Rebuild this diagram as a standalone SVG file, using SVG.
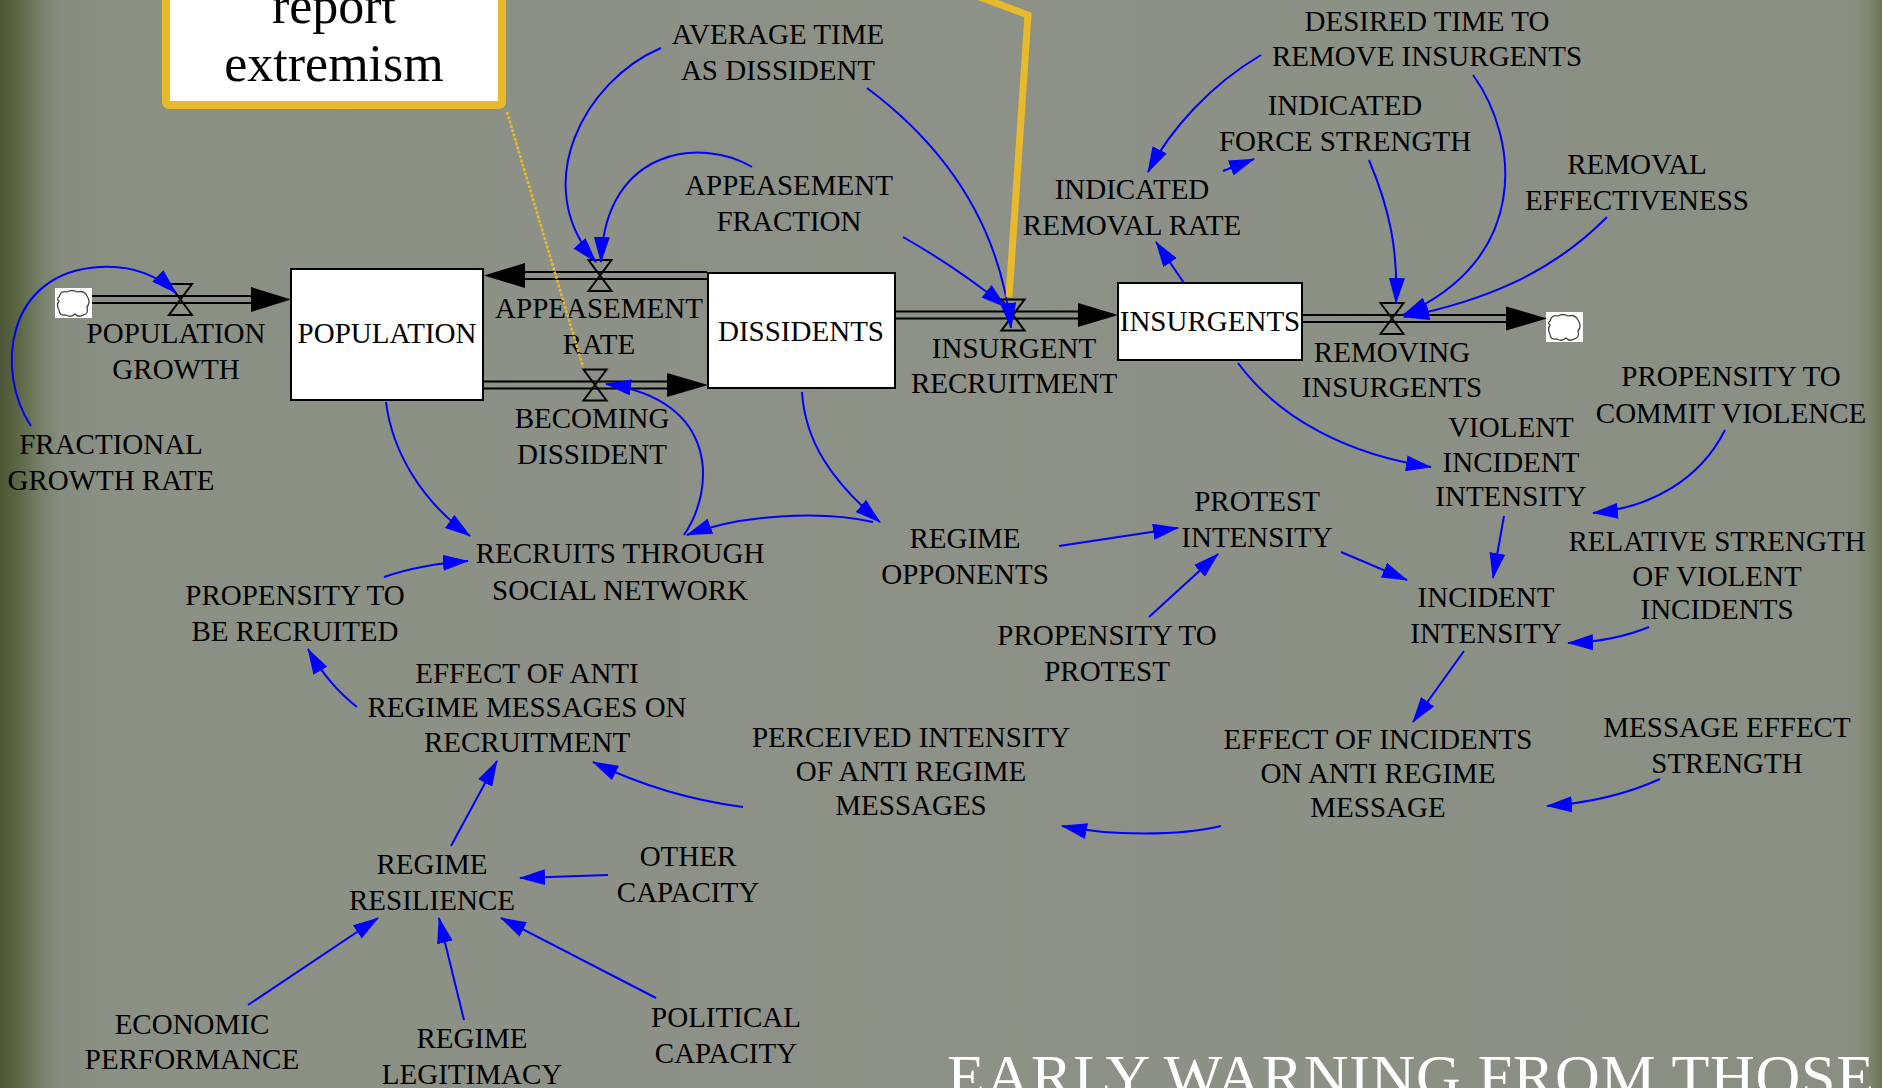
<svg xmlns="http://www.w3.org/2000/svg" xmlns:xlink="http://www.w3.org/1999/xlink" width="1882" height="1088" viewBox="0 0 1882 1088">
<style>
 .lbl{font-family:"Liberation Serif","Times New Roman",serif;font-size:29px;fill:#000;text-anchor:middle}
 .stock{fill:#fff;stroke:#000;stroke-width:2}
 .pipe{stroke:#000;stroke-width:2;fill:none}
 .fh{fill:#000}
 .lnk{fill:none;stroke:#0000FF;stroke-width:2;marker-end:url(#ah)}
 .note{font-family:"Liberation Serif","Times New Roman",serif;font-size:52px;text-anchor:middle;fill:#000}
 .title{font-family:"Liberation Serif","Times New Roman",serif;font-size:62px;fill:#fff}
 .gold{stroke:#E8B92A;fill:none}
</style>
<defs>
 <linearGradient id="bgH" x1="0" y1="0" x2="1" y2="0">
  <stop offset="0" stop-color="#4A5636"/>
  <stop offset="0.01" stop-color="#5C6845"/>
  <stop offset="0.022" stop-color="#77816A"/>
  <stop offset="0.032" stop-color="#868D7F"/>
  <stop offset="0.06" stop-color="#8B9085"/>
  <stop offset="0.5" stop-color="#8D9187"/>
  <stop offset="0.985" stop-color="#8A8F84"/>
  <stop offset="0.993" stop-color="#7E876F"/>
  <stop offset="1" stop-color="#6B7656"/>
 </linearGradient>
 <marker id="ah" viewBox="0 0 26 16" refX="25" refY="8" markerWidth="26" markerHeight="16" markerUnits="userSpaceOnUse" orient="auto">
  <path d="M0,0 L26,8 L0,16 z" fill="#0000FF"/>
 </marker>
 <path id="valve" d="M-11.5,-15.5 H11.5 L-11.5,15.5 H11.5 Z" fill="none" stroke="#000" stroke-width="2"/>
 <g id="cloud">
  <rect x="0" y="0" width="37" height="30" fill="#fff"/>
  <path d="M4,9 Q6,2 12,4 Q17,1 22,4 Q29,2 32,8 Q36,14 32,19 Q34,26 28,27 Q24,30 20,26 Q16,30 11,27 Q4,28 4,22 Q1,17 4,13 Q1,11 4,9 z" fill="#fff" stroke="#444" stroke-width="1.3"/>
 </g>
</defs>

<rect x="0" y="0" width="1882" height="1088" fill="url(#bgH)"/>

<!-- stocks -->
<g id="population"><rect class="stock" x="291" y="269" width="192" height="131"/><text class="lbl" x="387" y="343">POPULATION</text></g>
<g id="dissidents"><rect class="stock" x="708" y="273" width="187" height="115"/><text class="lbl" x="801" y="341">DISSIDENTS</text></g>
<g id="insurgents"><rect class="stock" x="1118" y="283" width="184" height="77"/><text class="lbl" x="1210" y="331">INSURGENTS</text></g>

<!-- clouds -->
<g id="source-cloud"><use xlink:href="#cloud" href="#cloud" x="55" y="288"/></g>
<g id="sink-cloud"><use xlink:href="#cloud" href="#cloud" x="1546" y="312"/></g>

<!-- flows -->
<g id="population-growth">
 <line class="pipe" x1="92" y1="296" x2="252" y2="296"/><line class="pipe" x1="92" y1="303" x2="252" y2="303"/>
 <polygon class="fh" points="251,287 291,299.5 251,312"/>
 <use xlink:href="#valve" href="#valve" x="180.5" y="299.5"/>
 <text class="lbl"><tspan x="176" y="343">POPULATION</tspan><tspan x="176" y="379">GROWTH</tspan></text>
</g>
<g id="appeasement-rate">
 <line class="pipe" x1="524" y1="272" x2="707" y2="272"/><line class="pipe" x1="524" y1="279" x2="707" y2="279"/>
 <polygon class="fh" points="525,263 484,275.5 525,288"/>
 <use xlink:href="#valve" href="#valve" x="600" y="275.5"/>
 <text class="lbl"><tspan x="599" y="318">APPEASEMENT</tspan><tspan x="599" y="354">RATE</tspan></text>
</g>
<g id="becoming-dissident">
 <line class="pipe" x1="483" y1="381.5" x2="668" y2="381.5"/><line class="pipe" x1="483" y1="388.5" x2="668" y2="388.5"/>
 <polygon class="fh" points="667,373 708,385 667,397"/>
 <use xlink:href="#valve" href="#valve" x="595" y="385"/>
 <text class="lbl"><tspan x="592" y="428">BECOMING</tspan><tspan x="592" y="464">DISSIDENT</tspan></text>
</g>
<g id="insurgent-recruitment">
 <line class="pipe" x1="895" y1="311.5" x2="1079" y2="311.5"/><line class="pipe" x1="895" y1="318.5" x2="1079" y2="318.5"/>
 <polygon class="fh" points="1078,303 1118,315 1078,327"/>
 <use xlink:href="#valve" href="#valve" x="1013" y="315"/>
 <text class="lbl"><tspan x="1014" y="358">INSURGENT</tspan><tspan x="1014" y="393">RECRUITMENT</tspan></text>
</g>
<g id="removing-insurgents">
 <line class="pipe" x1="1302" y1="315" x2="1507" y2="315"/><line class="pipe" x1="1302" y1="322" x2="1507" y2="322"/>
 <polygon class="fh" points="1506,306.5 1547,318.5 1506,330.5"/>
 <use xlink:href="#valve" href="#valve" x="1392" y="318.5"/>
 <text class="lbl"><tspan x="1392" y="362">REMOVING</tspan><tspan x="1392" y="397">INSURGENTS</tspan></text>
</g>

<!-- auxiliaries -->
<g id="fractional-growth-rate"><text class="lbl"><tspan x="111" y="454">FRACTIONAL</tspan><tspan x="111" y="490">GROWTH RATE</tspan></text></g>
<g id="average-time-as-dissident"><text class="lbl"><tspan x="778" y="44">AVERAGE TIME</tspan><tspan x="778" y="80">AS DISSIDENT</tspan></text></g>
<g id="appeasement-fraction"><text class="lbl"><tspan x="789" y="195">APPEASEMENT</tspan><tspan x="789" y="231">FRACTION</tspan></text></g>
<g id="indicated-removal-rate"><text class="lbl"><tspan x="1132" y="199">INDICATED</tspan><tspan x="1132" y="235">REMOVAL RATE</tspan></text></g>
<g id="indicated-force-strength"><text class="lbl"><tspan x="1345" y="115">INDICATED</tspan><tspan x="1345" y="151">FORCE STRENGTH</tspan></text></g>
<g id="desired-time-to-remove-insurgents"><text class="lbl"><tspan x="1427" y="31">DESIRED TIME TO</tspan><tspan x="1427" y="66">REMOVE INSURGENTS</tspan></text></g>
<g id="removal-effectiveness"><text class="lbl"><tspan x="1637" y="174">REMOVAL</tspan><tspan x="1637" y="210">EFFECTIVENESS</tspan></text></g>
<g id="propensity-to-commit-violence"><text class="lbl"><tspan x="1731" y="386">PROPENSITY TO</tspan><tspan x="1731" y="423">COMMIT VIOLENCE</tspan></text></g>
<g id="violent-incident-intensity"><text class="lbl"><tspan x="1511" y="437">VIOLENT</tspan><tspan x="1511" y="472">INCIDENT</tspan><tspan x="1511" y="506">INTENSITY</tspan></text></g>
<g id="relative-strength-of-violent-incidents"><text class="lbl"><tspan x="1717" y="551">RELATIVE STRENGTH</tspan><tspan x="1717" y="586">OF VIOLENT</tspan><tspan x="1717" y="619">INCIDENTS</tspan></text></g>
<g id="incident-intensity"><text class="lbl"><tspan x="1486" y="607">INCIDENT</tspan><tspan x="1486" y="643">INTENSITY</tspan></text></g>
<g id="message-effect-strength"><text class="lbl"><tspan x="1727" y="737">MESSAGE EFFECT</tspan><tspan x="1727" y="773">STRENGTH</tspan></text></g>
<g id="effect-of-incidents"><text class="lbl"><tspan x="1378" y="749">EFFECT OF INCIDENTS</tspan><tspan x="1378" y="783">ON ANTI REGIME</tspan><tspan x="1378" y="817">MESSAGE</tspan></text></g>
<g id="perceived-intensity"><text class="lbl"><tspan x="911" y="747">PERCEIVED INTENSITY</tspan><tspan x="911" y="781">OF ANTI REGIME</tspan><tspan x="911" y="815">MESSAGES</tspan></text></g>
<g id="regime-opponents"><text class="lbl"><tspan x="965" y="548">REGIME</tspan><tspan x="965" y="584">OPPONENTS</tspan></text></g>
<g id="protest-intensity"><text class="lbl"><tspan x="1257" y="511">PROTEST</tspan><tspan x="1257" y="547">INTENSITY</tspan></text></g>
<g id="propensity-to-protest"><text class="lbl"><tspan x="1107" y="645">PROPENSITY TO</tspan><tspan x="1107" y="681">PROTEST</tspan></text></g>
<g id="recruits-through-social-network"><text class="lbl"><tspan x="620" y="563">RECRUITS THROUGH</tspan><tspan x="620" y="600">SOCIAL NETWORK</tspan></text></g>
<g id="propensity-to-be-recruited"><text class="lbl"><tspan x="295" y="605">PROPENSITY TO</tspan><tspan x="295" y="641">BE RECRUITED</tspan></text></g>
<g id="effect-of-anti-regime-messages"><text class="lbl"><tspan x="527" y="683">EFFECT OF ANTI</tspan><tspan x="527" y="717">REGIME MESSAGES ON</tspan><tspan x="527" y="752">RECRUITMENT</tspan></text></g>
<g id="regime-resilience"><text class="lbl"><tspan x="432" y="874">REGIME</tspan><tspan x="432" y="910">RESILIENCE</tspan></text></g>
<g id="other-capacity"><text class="lbl"><tspan x="688" y="866">OTHER</tspan><tspan x="688" y="902">CAPACITY</tspan></text></g>
<g id="economic-performance"><text class="lbl"><tspan x="192" y="1034">ECONOMIC</tspan><tspan x="192" y="1069">PERFORMANCE</tspan></text></g>
<g id="regime-legitimacy"><text class="lbl"><tspan x="472" y="1048">REGIME</tspan><tspan x="472" y="1084">LEGITIMACY</tspan></text></g>
<g id="political-capacity"><text class="lbl"><tspan x="726" y="1027">POLITICAL</tspan><tspan x="726" y="1063">CAPACITY</tspan></text></g>

<!-- connectors -->
<g id="connectors">
 <path class="lnk" d="M31,426 C-5,372 5,272 100,267 C135,265 160,278 176,293"/>
 <path class="lnk" d="M661,48 C585,80 528,185 596,262"/>
 <path class="lnk" d="M752,167 C705,138 605,145 601,262"/>
 <path class="lnk" d="M867,88 C950,150 1000,230 1011,328"/>
 <path class="lnk" d="M903,237 C940,258 975,282 1006,307"/>
 <path class="lnk" d="M1184,283 L1156,242"/>
 <path class="lnk" d="M1261,55 C1210,85 1170,130 1148,172"/>
 <path class="lnk" d="M1223,171 L1254,159"/>
 <path class="lnk" d="M1369,160 C1390,210 1398,250 1396,303"/>
 <path class="lnk" d="M1473,75 C1520,140 1530,260 1403,315"/>
 <path class="lnk" d="M1607,217 C1550,275 1480,302 1404,317"/>
 <path class="lnk" d="M1238,363 C1280,420 1350,455 1431,467"/>
 <path class="lnk" d="M1725,430 C1700,480 1650,508 1593,513"/>
 <path class="lnk" d="M1504,516 L1493,578"/>
 <path class="lnk" d="M1341,552 L1407,580"/>
 <path class="lnk" d="M1649,627 C1625,637 1600,642 1568,643"/>
 <path class="lnk" d="M1464,651 L1413,722"/>
 <path class="lnk" d="M1660,779 C1625,795 1590,803 1547,806"/>
 <path class="lnk" d="M1221,826 C1180,836 1110,836 1062,826"/>
 <path class="lnk" d="M743,807 C690,800 640,785 593,762"/>
 <path class="lnk" d="M357,707 C335,690 320,670 308,649"/>
 <path class="lnk" d="M384,577 C410,568 440,563 468,561"/>
 <path class="lnk" d="M386,402 C392,450 420,500 470,536"/>
 <path class="lnk" d="M684,535 C715,490 720,400 606,384"/>
 <path class="lnk" d="M802,392 C805,440 830,480 880,522"/>
 <path class="lnk" d="M873,522 C820,510 740,515 687,535"/>
 <path class="lnk" d="M1059,546 L1178,528"/>
 <path class="lnk" d="M1149,617 L1218,554"/>
 <path class="lnk" d="M451,846 L497,761"/>
 <path class="lnk" d="M608,875 L520,878"/>
 <path class="lnk" d="M248,1005 L378,918"/>
 <path class="lnk" d="M464,1020 L439,918"/>
 <path class="lnk" d="M656,998 L501,918"/>
</g>

<!-- callout -->
<g id="callout">
 <rect x="166" y="-60" width="336" height="165" rx="3" fill="#fff" stroke="#E8B92A" stroke-width="8"/>
 <text class="note"><tspan x="334" y="23">report</tspan><tspan x="334" y="81">extremism</tspan></text>
 <line class="gold" x1="507" y1="112" x2="583" y2="367" stroke-width="2.5" stroke-dasharray="3 1.5"/>
 <polyline class="gold" points="950,-14 1028,15 1009,297" stroke-width="7" stroke-linejoin="miter"/>
</g>

<text class="title" x="947" y="1097" textLength="927">EARLY WARNING FROM THOSE</text>
</svg>
